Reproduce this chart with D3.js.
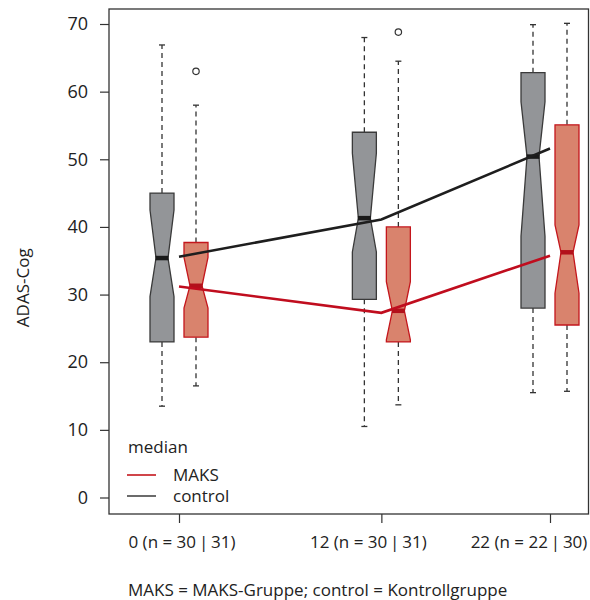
<!DOCTYPE html>
<html>
<head>
<meta charset="utf-8">
<script src="https://cdn.jsdelivr.net/npm/d3@7"></script>
<style>
  html, body { margin: 0; padding: 0; background: #fff; }
  svg { display: block; font-family: "Open Sans", "Noto Sans", sans-serif; }
</style>
</head>
<body>
<svg id="chart" width="590" height="600"></svg>
<script>
// ---------- data ----------
const times = [0, 12, 22];
const xTickLabels = ["0 (n = 30\u2009|\u200931)", "12 (n = 30\u2009|\u200931)", "22 (n = 22\u2009|\u200930)"];
const yTicks = [0, 10, 20, 30, 40, 50, 60, 70];
const groups = ["control", "MAKS"];

// box statistics: [lowerWhisker, q1, median, q3, upperWhisker]
const controlStats = [
  [13.5, 23.0, 35.4, 45.0, 66.9],
  [10.5, 29.3, 41.3, 54.0, 68.0],
  [15.5, 28.0, 50.4, 62.8, 69.9]
];
const maksStats = [
  [16.5, 23.7, 31.3, 37.7, 58.0],
  [13.7, 23.0, 27.6, 40.0, 64.5],
  [15.7, 25.5, 36.25, 55.1, 70.1]
];
// notch [low, high]
const controlNotch = [[29.7, 42.5], [36.3, 50.9], [38.6, 58.5]];
const maksNotch = [[28.0, 35.5], [23.3, 31.9], [30.2, 40.3]];
// outliers
const controlOutliers = [[], [], []];
const maksOutliers = [[63.0], [68.8], []];
// median lines
const controlLine = [35.6, 41.1, 51.6];
const maksLine = [31.2, 27.3, 35.75];

// ---------- layout / style ----------
const frame = { left: 109, top: 9, right: 588.5, bottom: 514 };
const groupOffset = { control: -17, MAKS: 17 };
const halfW = 12;
const notchFrac = 0.5;
const labelDx = [3, -13, -21];
const fs = 17;
const style = {
  control: { fill: "#939598", stroke: "#3a3a3a", median: "#1a1a1a", line: "#1e1e1e", legend: "#6b6b6b" },
  MAKS:    { fill: "#d9836d", stroke: "#c4161c", median: "#b3111b", line: "#c00d1e", legend: "#c4161c" }
};

const svg = d3.select("#chart");
const x = d3.scaleLinear().domain([0, 22]).range([179, 550]);
const y = d3.scaleLinear().domain([0, 70]).range([497.5, 24]);

// frame
svg.append("rect")
  .attr("x", frame.left).attr("y", frame.top)
  .attr("width", frame.right - frame.left).attr("height", frame.bottom - frame.top)
  .attr("fill", "none").attr("stroke", "#333").attr("stroke-width", 1.3);

// y axis
const yAxis = svg.append("g").attr("transform", `translate(${frame.left},0)`)
  .call(d3.axisLeft(y).tickValues(yTicks).tickSize(9).tickPadding(12).tickFormat(d3.format("d")));
yAxis.select(".domain").remove();
yAxis.selectAll("line").attr("stroke", "#333").attr("stroke-width", 1.2);
yAxis.selectAll("text").attr("font-size", 18).attr("fill", "#222")
  .attr("font-family", "'Open Sans', sans-serif");

// x axis
const xAxis = svg.append("g").attr("transform", `translate(0,${frame.bottom})`)
  .call(d3.axisBottom(x).tickValues(times).tickSize(9).tickFormat(""));
xAxis.select(".domain").remove();
xAxis.selectAll("line").attr("stroke", "#333").attr("stroke-width", 1.2);

svg.append("g").selectAll("text").data(times).join("text")
  .attr("x", (d, i) => x(d) + labelDx[i])
  .attr("y", 548)
  .attr("text-anchor", "middle")
  .attr("font-size", fs).attr("fill", "#222")
  .text((d, i) => xTickLabels[i]);

// y title
svg.append("text")
  .attr("transform", `translate(29,${(y(0) + y(70)) / 2 + 27}) rotate(-90)`)
  .attr("text-anchor", "middle")
  .attr("font-size", fs).attr("fill", "#222")
  .text("ADAS-Cog");

// caption
svg.append("text")
  .attr("x", 128).attr("y", 596)
  .attr("font-size", fs).attr("fill", "#222")
  .text("MAKS = MAKS-Gruppe; control = Kontrollgruppe");

// boxes
function drawBoxes(name, stats, notch, outliers) {
  const st = style[name];
  const g = svg.append("g");
  stats.forEach((s, i) => {
    const cx = x(times[i]) + groupOffset[name];
    const [lo, q1, med, q3, hi] = s;
    const [nl, nh] = notch[i];
    // whiskers
    [[q3, hi], [q1, lo]].forEach(([a, b]) => {
      g.append("line").attr("x1", cx).attr("x2", cx).attr("y1", y(a)).attr("y2", y(b))
        .attr("stroke", "#333").attr("stroke-width", 1.3).attr("stroke-dasharray", "5,4");
      g.append("line").attr("x1", cx - 3).attr("x2", cx + 3).attr("y1", y(b)).attr("y2", y(b))
        .attr("stroke", "#333").attr("stroke-width", 1.3);
    });
    // notched box
    const pts = [
      [cx - halfW, y(q1)], [cx - halfW, y(nl)], [cx - halfW * notchFrac, y(med)],
      [cx - halfW, y(nh)], [cx - halfW, y(q3)], [cx + halfW, y(q3)],
      [cx + halfW, y(nh)], [cx + halfW * notchFrac, y(med)], [cx + halfW, y(nl)],
      [cx + halfW, y(q1)]
    ];
    g.append("path").attr("d", d3.line()(pts) + "Z")
      .attr("fill", st.fill).attr("stroke", st.stroke).attr("stroke-width", 1.3)
      .attr("stroke-linejoin", "miter");
    // median bar
    g.append("line")
      .attr("x1", cx - halfW * notchFrac - 0.5).attr("x2", cx + halfW * notchFrac + 0.5)
      .attr("y1", y(med)).attr("y2", y(med))
      .attr("stroke", st.median).attr("stroke-width", 4.5);
    // outliers
    outliers[i].forEach(o => {
      g.append("circle").attr("cx", cx).attr("cy", y(o)).attr("r", 3.2)
        .attr("fill", "none").attr("stroke", "#333").attr("stroke-width", 1.2);
    });
  });
}
drawBoxes("control", controlStats, controlNotch, controlOutliers);
drawBoxes("MAKS", maksStats, maksNotch, maksOutliers);

// median lines
const lineGen = d3.line().x((d, i) => x(times[i])).y(d => y(d));
svg.append("path").attr("d", lineGen(controlLine))
  .attr("fill", "none").attr("stroke", style.control.line).attr("stroke-width", 2.6);
svg.append("path").attr("d", lineGen(maksLine))
  .attr("fill", "none").attr("stroke", style.MAKS.line).attr("stroke-width", 2.6);

// legend
const lg = svg.append("g");
lg.append("text").attr("x", 128).attr("y", 453).attr("font-size", fs).attr("fill", "#222").text("median");
const legendItems = [["MAKS", 475], ["control", 496]];
legendItems.forEach(([name, ly]) => {
  lg.append("line").attr("x1", 127).attr("x2", 156).attr("y1", ly).attr("y2", ly)
    .attr("stroke", style[name].legend).attr("stroke-width", name === "MAKS" ? 1.6 : 2);
  lg.append("text").attr("x", 173).attr("y", ly + 6).attr("font-size", fs).attr("fill", "#222").text(name);
});
</script>
</body>
</html>
